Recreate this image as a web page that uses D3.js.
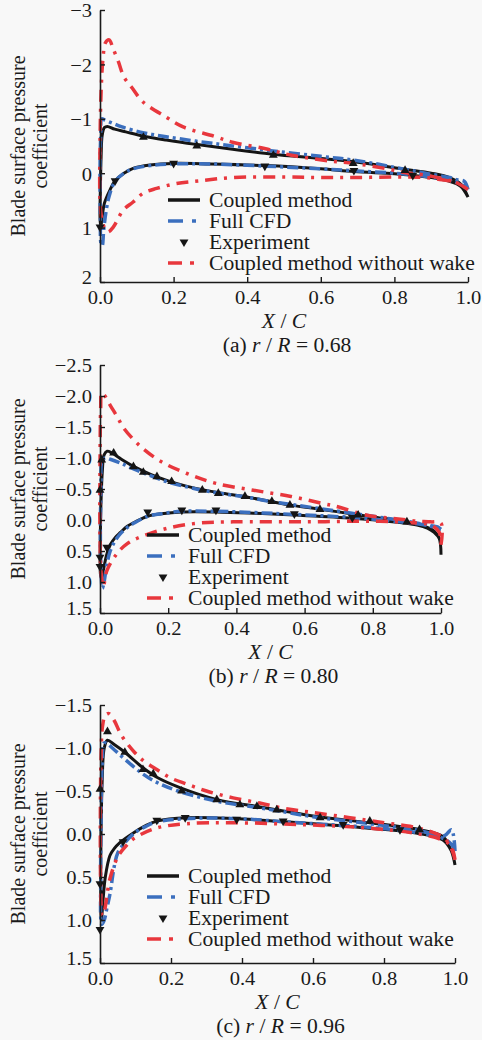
<!DOCTYPE html>
<html><head><meta charset="utf-8">
<script src="https://cdn.jsdelivr.net/npm/d3@7"></script>
<style>
html,body{margin:0;padding:0;background:#f8f8f8;}
svg{display:block;}
svg text{font-family:"Liberation Serif","Times New Roman",serif !important;fill:#1a1a1a;}
</style></head><body>
<script>
// ---------- DATA ----------
// Each line series is a loop: trailing edge -> suction side -> leading edge -> pressure side -> trailing edge. [X/C, Cp]
const a_coupled = [[1.0,0.44],[0.98,0.2],[0.95,0.08],[0.9,0.0],[0.83,-0.07],[0.7,-0.2],[0.6,-0.27],[0.47,-0.35],[0.35,-0.45],[0.26,-0.53],[0.18,-0.61],[0.12,-0.68],[0.07,-0.76],[0.04,-0.81],[0.02,-0.86],[0.012,-0.84],[0.006,-0.7],[0.003,-0.3],[0.001,0.3],[0.0,0.8],[0.002,1.0],[0.006,0.8],[0.012,0.55],[0.027,0.31],[0.041,0.14],[0.065,0.0],[0.09,-0.09],[0.136,-0.15],[0.2,-0.18],[0.3,-0.17],[0.45,-0.14],[0.6,-0.08],[0.69,-0.03],[0.8,0.01],[0.85,0.04],[0.9,0.08],[0.95,0.15],[0.98,0.24],[1.0,0.44]];
const a_cfd = [[1.0,0.3],[0.99,0.15],[0.97,0.12],[0.95,0.08],[0.9,0.02],[0.83,-0.07],[0.7,-0.23],[0.6,-0.31],[0.47,-0.41],[0.35,-0.51],[0.26,-0.59],[0.18,-0.67],[0.12,-0.74],[0.06,-0.85],[0.03,-0.93],[0.012,-0.98],[0.005,-1.0],[0.002,-0.7],[0.0,0.0],[0.001,0.8],[0.003,1.3],[0.006,1.33],[0.01,1.05],[0.016,0.72],[0.025,0.42],[0.04,0.16],[0.065,0.0],[0.09,-0.08],[0.136,-0.14],[0.2,-0.17],[0.3,-0.17],[0.45,-0.13],[0.6,-0.08],[0.7,-0.04],[0.8,0.0],[0.9,0.07],[0.95,0.13],[0.98,0.2],[1.0,0.3]];
const a_nowake = [[1.0,0.3],[0.97,0.18],[0.93,0.1],[0.88,0.03],[0.84,0.0],[0.78,-0.08],[0.69,-0.18],[0.63,-0.22],[0.52,-0.33],[0.45,-0.45],[0.36,-0.57],[0.31,-0.68],[0.226,-0.85],[0.18,-1.03],[0.117,-1.31],[0.087,-1.57],[0.065,-1.77],[0.05,-2.05],[0.035,-2.3],[0.025,-2.45],[0.015,-2.4],[0.008,-2.1],[0.003,-1.5],[0.0,-0.5],[0.0,0.5],[0.005,0.85],[0.012,1.0],[0.022,1.08],[0.036,0.99],[0.063,0.68],[0.09,0.53],[0.117,0.37],[0.154,0.28],[0.208,0.19],[0.27,0.14],[0.36,0.08],[0.5,0.07],[0.6,0.08],[0.7,0.08],[0.8,0.07],[0.88,0.08],[0.93,0.12],[0.97,0.18],[1.0,0.3]];
const a_expUpper = [[0.118,-0.66],[0.263,-0.5],[0.471,-0.33],[0.688,-0.18],[0.829,-0.05]];
const a_expLower = [[0.0,0.99],[0.041,0.14],[0.2,-0.18],[0.448,-0.13],[0.69,-0.05],[0.85,0.04]];

const b_coupled = [[1.0,0.56],[0.995,0.3],[0.98,0.18],[0.95,0.1],[0.9,0.03],[0.8,-0.05],[0.75,-0.09],[0.65,-0.17],[0.56,-0.24],[0.5,-0.3],[0.43,-0.37],[0.35,-0.44],[0.3,-0.49],[0.25,-0.55],[0.2,-0.63],[0.15,-0.73],[0.1,-0.86],[0.06,-0.99],[0.035,-1.08],[0.021,-1.11],[0.012,-1.05],[0.007,-0.8],[0.003,-0.3],[0.001,0.3],[0.002,0.9],[0.006,0.95],[0.012,0.75],[0.02,0.55],[0.03,0.4],[0.045,0.28],[0.06,0.2],[0.08,0.1],[0.1,0.04],[0.14,-0.06],[0.18,-0.1],[0.24,-0.13],[0.34,-0.13],[0.45,-0.11],[0.57,-0.08],[0.74,-0.03],[0.88,0.04],[0.93,0.08],[0.96,0.13],[0.98,0.2],[0.995,0.3],[1.0,0.56]];
const b_cfd = [[1.0,0.15],[0.99,0.11],[0.98,0.1],[0.95,0.07],[0.9,0.02],[0.8,-0.06],[0.75,-0.1],[0.65,-0.18],[0.56,-0.25],[0.5,-0.3],[0.43,-0.37],[0.35,-0.43],[0.3,-0.48],[0.25,-0.54],[0.2,-0.61],[0.15,-0.71],[0.1,-0.82],[0.06,-0.92],[0.03,-0.98],[0.015,-1.0],[0.006,-0.95],[0.003,-0.5],[0.001,0.2],[0.003,0.8],[0.007,1.1],[0.012,1.0],[0.02,0.72],[0.03,0.5],[0.045,0.33],[0.06,0.22],[0.08,0.12],[0.1,0.05],[0.14,-0.06],[0.18,-0.1],[0.24,-0.14],[0.34,-0.14],[0.45,-0.12],[0.57,-0.09],[0.74,-0.04],[0.88,0.03],[0.93,0.06],[0.97,0.1],[0.99,0.14],[1.0,0.15]];
const b_nowake = [[1.0,0.4],[1.0,0.05],[0.97,0.03],[0.93,0.02],[0.9,0.0],[0.85,-0.03],[0.78,-0.08],[0.7,-0.21],[0.65,-0.27],[0.56,-0.38],[0.45,-0.48],[0.34,-0.59],[0.255,-0.75],[0.18,-0.94],[0.12,-1.18],[0.07,-1.48],[0.05,-1.67],[0.03,-1.85],[0.012,-2.02],[0.005,-2.05],[0.002,-1.8],[0.0,-0.8],[0.0,0.3],[0.004,0.9],[0.01,1.07],[0.02,0.82],[0.05,0.54],[0.08,0.38],[0.12,0.27],[0.2,0.13],[0.29,0.05],[0.39,0.03],[0.6,0.03],[0.8,0.02],[0.93,0.05],[0.97,0.08],[0.995,0.2],[1.0,0.4]];
const b_expUpper = [[0.0,-0.48],[0.005,-0.97],[0.04,-1.08],[0.098,-0.86],[0.127,-0.77],[0.167,-0.7],[0.21,-0.62],[0.3,-0.48],[0.347,-0.43],[0.425,-0.38],[0.504,-0.3],[0.557,-0.24],[0.645,-0.17],[0.757,-0.08],[0.9,0.03]];
const b_expLower = [[0.0,0.6],[0.0,0.75],[0.02,0.44],[0.14,-0.13],[0.24,-0.16],[0.34,-0.16],[0.57,-0.1],[0.74,-0.04]];

const c_coupled = [[1.0,0.36],[0.99,0.2],[0.966,0.03],[0.9,-0.05],[0.76,-0.13],[0.6,-0.21],[0.5,-0.28],[0.442,-0.32],[0.33,-0.4],[0.225,-0.54],[0.16,-0.66],[0.121,-0.77],[0.07,-0.95],[0.04,-1.04],[0.021,-1.09],[0.012,-1.0],[0.006,-0.6],[0.003,0.0],[0.002,0.6],[0.004,1.0],[0.008,0.8],[0.015,0.5],[0.028,0.25],[0.04,0.17],[0.056,0.1],[0.093,-0.01],[0.13,-0.1],[0.16,-0.15],[0.245,-0.19],[0.375,-0.18],[0.563,-0.13],[0.75,-0.07],[0.89,-0.01],[0.966,0.07],[0.99,0.2],[1.0,0.36]];
const c_cfd = [[1.0,0.2],[0.99,-0.05],[0.97,0.02],[0.9,-0.04],[0.76,-0.12],[0.6,-0.2],[0.5,-0.27],[0.44,-0.31],[0.33,-0.38],[0.22,-0.5],[0.16,-0.6],[0.12,-0.7],[0.07,-0.87],[0.04,-0.98],[0.02,-1.05],[0.012,-1.06],[0.006,-0.8],[0.003,-0.2],[0.002,0.5],[0.005,1.05],[0.012,1.0],[0.02,0.85],[0.028,0.7],[0.04,0.38],[0.05,0.22],[0.07,0.1],[0.1,-0.02],[0.13,-0.09],[0.16,-0.14],[0.245,-0.18],[0.375,-0.18],[0.563,-0.13],[0.75,-0.08],[0.89,-0.02],[0.966,0.05],[0.99,0.12],[1.0,0.2]];
const c_nowake = [[1.0,0.3],[0.99,0.17],[0.97,0.05],[0.93,-0.03],[0.873,-0.09],[0.8,-0.13],[0.704,-0.19],[0.6,-0.25],[0.516,-0.3],[0.45,-0.36],[0.375,-0.42],[0.3,-0.5],[0.245,-0.58],[0.2,-0.65],[0.16,-0.75],[0.12,-0.86],[0.093,-0.97],[0.06,-1.15],[0.04,-1.32],[0.025,-1.4],[0.015,-1.38],[0.007,-1.25],[0.003,-0.9],[0.001,-0.2],[0.002,0.6],[0.006,0.95],[0.012,0.9],[0.028,0.52],[0.051,0.26],[0.075,0.13],[0.1,0.04],[0.16,-0.07],[0.245,-0.12],[0.375,-0.13],[0.563,-0.11],[0.75,-0.07],[0.9,0.0],[0.97,0.08],[0.99,0.15],[1.0,0.3]];
const c_expUpper = [[0.0,-0.52],[0.021,-1.19],[0.07,-0.95],[0.121,-0.75],[0.15,-0.7],[0.23,-0.5],[0.329,-0.4],[0.394,-0.34],[0.442,-0.32],[0.498,-0.28],[0.62,-0.19],[0.76,-0.15],[0.9,-0.05]];
const c_expLower = [[0.0,0.58],[0.0,1.11],[0.065,0.09],[0.16,-0.16],[0.24,-0.19],[0.385,-0.17],[0.516,-0.15],[0.685,-0.11],[0.845,-0.05]];

const xTicks = [0,0.2,0.4,0.6,0.8,1.0];
const a_yTicks = [-3,-2,-1,0,1,2];
const b_yTicks = [-2.5,-2.0,-1.5,-1.0,-0.5,0.0,0.5,1.0,1.5];
const c_yTicks = [-1.5,-1.0,-0.5,0.0,0.5,1.0,1.5];
const legendLabels = ["Coupled method","Full CFD","Experiment","Coupled method without wake"];
const captions = [["(a) ","0.68"],["(b) ","0.80"],["(c) ","0.96"]];

// ---------- LAYOUT ----------
const panels = [
  {coupled:a_coupled,cfd:a_cfd,nowake:a_nowake,expU:a_expUpper,expL:a_expLower,yTicks:a_yTicks,yDom:[-3,2],dec:0,
   left:100,right:468,top:10,bottom:282,legX:168,legY:200,cap:captions[0]},
  {coupled:b_coupled,cfd:b_cfd,nowake:b_nowake,expU:b_expUpper,expL:b_expLower,yTicks:b_yTicks,yDom:[-2.5,1.5],dec:1,
   left:100,right:441,top:365,bottom:613,legX:147,legY:535,cap:captions[1]},
  {coupled:c_coupled,cfd:c_cfd,nowake:c_nowake,expU:c_expUpper,expL:c_expLower,yTicks:c_yTicks,yDom:[-1.5,1.5],dec:1,
   left:100,right:455,top:705,bottom:963,legX:147,legY:876,cap:captions[2]}
];
const COL = {black:"#151515", blue:"#3b6fbe", red:"#e8373d"};
const FS = 19, STRETCH = 1.08;

const svg = d3.select("body").append("svg").attr("width",482).attr("height",1040);
const fmtMinus = (v,dec) => { const s = Math.abs(v).toFixed(dec); return (v<0?"\u2212":"")+s; };

panels.forEach(p => {
  const g = svg.append("g");
  const x = d3.scaleLinear().domain([0,1]).range([p.left,p.right]);
  const y = d3.scaleLinear().domain(p.yDom).range([p.top,p.bottom]);
  const line = d3.line().x(d=>x(d[0])).y(d=>y(d[1])).curve(d3.curveCatmullRom.alpha(0.5));

  g.append("path").attr("d",line(p.coupled)).attr("fill","none").attr("stroke",COL.black).attr("stroke-width",3);
  g.append("path").attr("d",line(p.cfd)).attr("fill","none").attr("stroke",COL.blue).attr("stroke-width",3.5).attr("stroke-dasharray","11,4,3,4");
  g.append("path").attr("d",line(p.nowake)).attr("fill","none").attr("stroke",COL.red).attr("stroke-width",3.5).attr("stroke-dasharray","12,7,3,7");

  const tri = d3.symbol().type(d3.symbolTriangle).size(34);
  g.selectAll("path.eu").data(p.expU).enter().append("path").attr("class","eu")
    .attr("d",tri).attr("transform",d=>`translate(${x(d[0])},${y(d[1])})`).attr("fill",COL.black);
  g.selectAll("path.el").data(p.expL).enter().append("path").attr("class","el")
    .attr("d",tri).attr("transform",d=>`translate(${x(d[0])},${y(d[1])}) rotate(180)`).attr("fill",COL.black);

  const ya = d3.axisLeft(y).tickValues(p.yTicks).tickSize(-5).tickSizeOuter(0).tickPadding(8).tickFormat(v=>fmtMinus(v,p.dec));
  const yg = g.append("g").attr("transform",`translate(${p.left},0)`).call(ya);
  const xa = d3.axisBottom(x).tickValues(xTicks).tickSize(-5).tickSizeOuter(0).tickPadding(9).tickFormat(d3.format(".1f"));
  const xg = g.append("g").attr("transform",`translate(0,${p.bottom})`).call(xa);
  [yg,xg].forEach(a=>{
    a.attr("font-family",null).attr("font-size",null);
    a.select(".domain").attr("stroke","#1a1a1a").attr("stroke-width",1.6);
    a.selectAll(".tick line").attr("stroke","#1a1a1a").attr("stroke-width",1.4);
    a.selectAll("text").style("font-size",FS+"px").attr("fill","#1a1a1a");
  });
  yg.selectAll("text").attr("dy","0.36em");
  // lowest y label sits slightly above the x axis, as in the reference
  yg.selectAll(".tick").filter(d=>d===p.yTicks[p.yTicks.length-1]).select("text").attr("dy","0.1em");

  const cx = (p.left+p.right)/2, cy=(p.top+p.bottom)/2;
  const xt = g.append("text").attr("x",cx).attr("y",p.bottom+46).attr("text-anchor","middle").style("font-size",(FS+1)+"px");
  xt.append("tspan").attr("font-style","italic").text("X");
  xt.append("tspan").text(" / ");
  xt.append("tspan").attr("font-style","italic").text("C");
  const ct = g.append("text").attr("x",cx+3).attr("y",p.bottom+70).attr("text-anchor","middle").style("font-size",(FS+1)+"px");
  ct.append("tspan").text(p.cap[0]);
  ct.append("tspan").attr("font-style","italic").text("r");
  ct.append("tspan").text(" / ");
  ct.append("tspan").attr("font-style","italic").text("R");
  ct.append("tspan").text(" = "+p.cap[1]);
  g.append("text").attr("class","rot").attr("transform",`translate(18,${cy}) rotate(-90)`).attr("text-anchor","middle").attr("dominant-baseline","central").style("font-size",(FS+1)+"px").text("Blade surface pressure");
  g.append("text").attr("class","rot").attr("transform",`translate(40,${cy}) rotate(-90)`).attr("text-anchor","middle").attr("dominant-baseline","central").style("font-size",(FS+1)+"px").text("coefficient");

  const lg = g.append("g").attr("transform",`translate(${p.legX},${p.legY})`);
  const rowH = 21;
  lg.append("line").attr("x1",0).attr("x2",32).attr("y1",0).attr("y2",0).attr("stroke",COL.black).attr("stroke-width",3.5);
  lg.append("line").attr("x1",0).attr("x2",32).attr("y1",rowH).attr("y2",rowH).attr("stroke",COL.blue).attr("stroke-width",3.5).attr("stroke-dasharray","15,9,4,20");
  lg.append("path").attr("d",tri).attr("transform",`translate(16,${2*rowH}) rotate(180)`).attr("fill",COL.black);
  lg.append("line").attr("x1",0).attr("x2",32).attr("y1",3*rowH).attr("y2",3*rowH).attr("stroke",COL.red).attr("stroke-width",3.5).attr("stroke-dasharray","14,8,4,20");
  legendLabels.forEach((t,i)=>{
    lg.append("text").attr("x",41).attr("y",i*rowH).attr("dy","0.35em").style("font-size",(FS+1)+"px").text(t);
  });
});

// reference text is slightly wider than the font: stretch horizontal texts
svg.selectAll("text").filter(function(){return !this.classList.contains("rot");}).each(function(){
  const w = this.getComputedTextLength();
  d3.select(this).attr("textLength", w*STRETCH).attr("lengthAdjust","spacingAndGlyphs");
});
</script>
</body></html>
